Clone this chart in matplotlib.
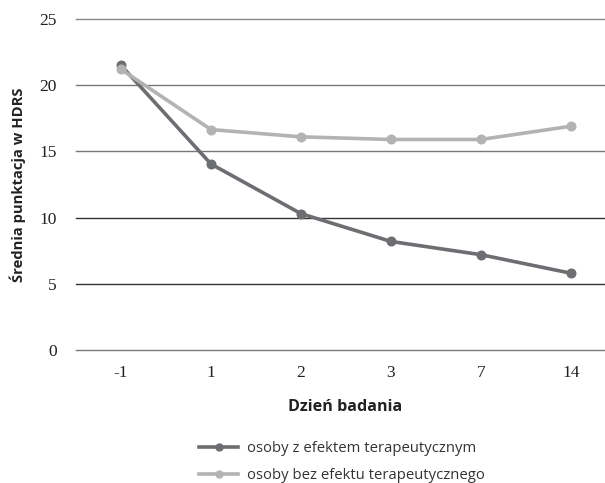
import matplotlib.pyplot as plt
import numpy as np

days = ["-1", "1", "2", "3", "7", "14"]
z_efektem = [21.5, 14.05, 10.3, 8.2, 7.2, 5.8]
bez_efektu = [21.2, 16.65, 16.1, 15.9, 15.9, 16.9]
y_ticks = [0, 5, 10, 15, 20, 25]

DARK = "#6d6e71"
LIGHT = "#b3b3b3"

fig = plt.figure(figsize=(6.05, 4.83), dpi=100)
ax = fig.add_axes([76 / 605, 1 - 350 / 483, 1 - 76 / 605, (350 - 19) / 483])

x = np.arange(len(days))
ax.plot(x, z_efektem, color=DARK, lw=2.6, marker="o", ms=6.2, zorder=3,
        label="osoby z efektem terapeutycznym")
ax.plot(x, bez_efektu, color=LIGHT, lw=2.6, marker="o", ms=6.2, zorder=3,
        label="osoby bez efektu terapeutycznego")

ax.set_xlim(-0.5, 5.38)
ax.set_ylim(0, 25)

# gridlines (scan shows the lower ones darker)
grid_cols = {0: "#7a7a7a", 5: "#333333", 10: "#333333", 15: "#777777", 20: "#777777", 25: "#888888"}
for v in y_ticks:
    ax.axhline(v, color=grid_cols[v], lw=1.0, zorder=1, clip_on=False)

for s in ax.spines.values():
    s.set_visible(False)

ax.set_yticks(y_ticks)
ax.set_yticklabels([str(v) for v in y_ticks], fontfamily="Liberation Serif", fontsize=12.5)
ax.set_xticks(x)
ax.set_xticklabels(days, fontfamily="Liberation Serif", fontsize=12.5)
ax.tick_params(axis="both", length=0, colors="#222222")
ax.tick_params(axis="y", pad=14)
ax.tick_params(axis="x", pad=11)

fig.text(18 / 605, 1 - 185 / 483, "Średnia punktacja w HDRS", rotation=90,
         ha="center", va="center", fontfamily="Open Sans", fontweight="bold",
         fontsize=10.6, color="#222222")
fig.text(345 / 605, 1 - 407 / 483, "Dzień badania", ha="center", va="center",
         fontfamily="Open Sans", fontweight="bold", fontsize=11.6, color="#222222")

leg = fig.legend(loc="center", bbox_to_anchor=(342 / 605, 1 - 462 / 483), frameon=False,
                 prop={"family": "Open Sans", "size": 10.7}, handlelength=2.6,
                 handletextpad=0.6, labelspacing=0.8, markerscale=0.8)
for t in leg.get_texts():
    t.set_color("#333333")

fig.savefig("out.png", dpi=100)
